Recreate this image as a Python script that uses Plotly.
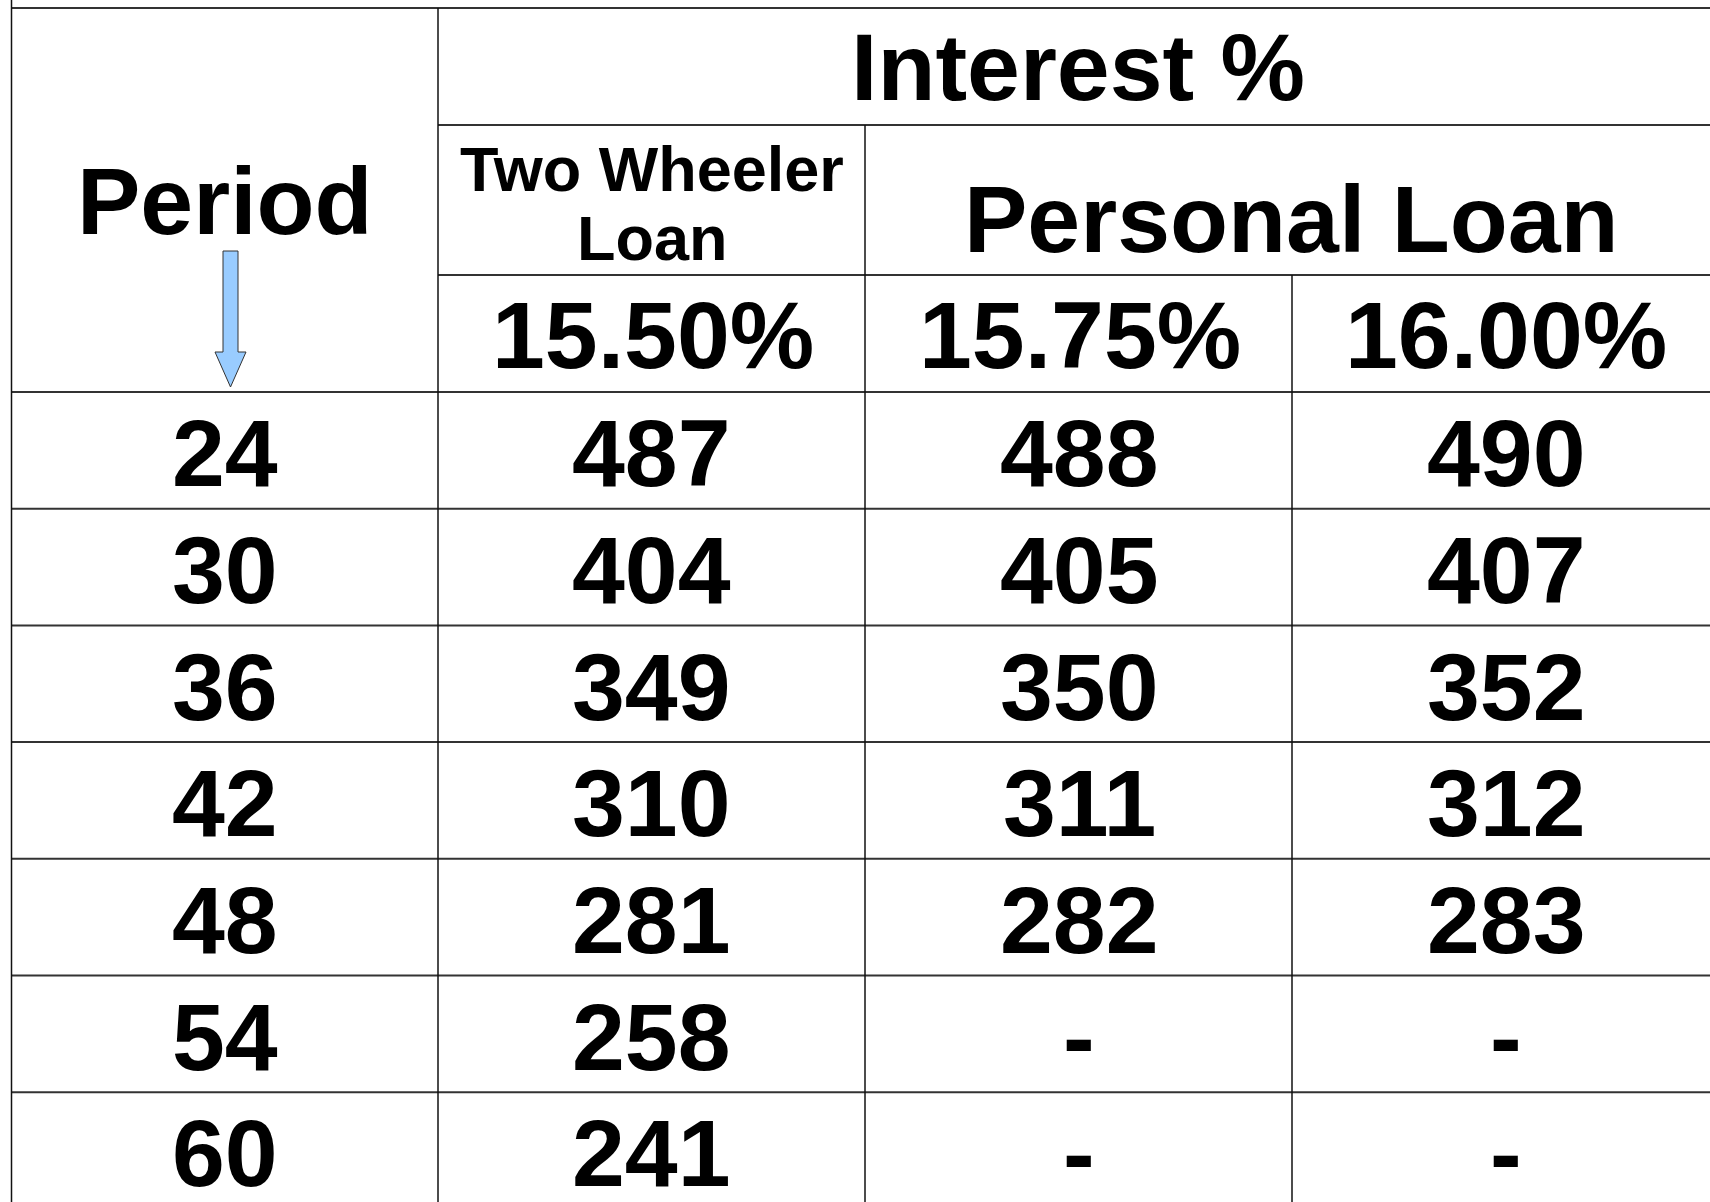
import plotly.graph_objects as go

# ---------------- data ----------------
periods = [24, 30, 36, 42, 48, 54, 60]
two_wheeler_1550 = ["487", "404", "349", "310", "281", "258", "241"]
personal_1575 = ["488", "405", "350", "311", "282", "-", "-"]
personal_1600 = ["490", "407", "352", "312", "283", "-", "-"]
rate_labels = ["15.50%", "15.75%", "16.00%"]
title_interest = "Interest %"
title_period = "Period"
title_two_wheeler = ["Two Wheeler", "Loan"]
title_personal = "Personal Loan"

# ---------------- layout constants ----------------
W, H = 1710, 1202
FONT = "Liberation Sans, Arial, sans-serif"
BIG = 95
SMALL = 63
col_x = [11.5, 438, 865, 1292, 1719]
y_top = 8
y_h1 = 125
y_h2 = 275
y_h3 = 392
row_h = 116.7

fig = go.Figure()

shapes = []
def hline(y, x0, x1):
    shapes.append(dict(type="line", x0=x0, x1=x1, y0=y, y1=y, xref="x", yref="y",
                       line=dict(color="#333333", width=2)))
def vline(x, y0, y1):
    shapes.append(dict(type="line", x0=x, x1=x, y0=y0, y1=y1, xref="x", yref="y",
                       line=dict(color="#111111", width=1.5)))

hline(y_top, col_x[0], W)
hline(y_h1, col_x[1], W)
hline(y_h2, col_x[1], W)
hline(y_h3, col_x[0], W)
for k in range(1, len(periods)):
    hline(y_h3 + k * row_h, col_x[0], W)

vline(col_x[0], 0, H)
vline(col_x[1], y_top, H)
vline(col_x[2], y_h1, H)
vline(col_x[3], y_h2, H)

# arrow under "Period"
shapes.append(dict(
    type="path",
    path="M 223,251 L 238,251 L 238,352 L 246,352 L 230.5,387 L 215,352 L 223,352 Z",
    xref="x", yref="y", fillcolor="#99ccff", line=dict(color="#333333", width=1)))

annotations = []
def text(t, x, baseline, size):
    annotations.append(dict(x=x, y=baseline - 0.35 * size, text=t, xref="x", yref="y",
                            showarrow=False, xanchor="center", yanchor="middle",
                            font=dict(family=FONT, size=size, color="#000000", weight="bold")))

text(title_interest, 1078, 100, BIG)
text(title_period, 225, 234, BIG)
text(title_two_wheeler[0], 652, 191, SMALL)
text(title_two_wheeler[1], 652, 260, SMALL)
text(title_personal, 1291, 252, BIG)
rate_x = [653, 1080, 1506]
for lbl, x in zip(rate_labels, rate_x):
    text(lbl, x, 368, BIG)

cols = [two_wheeler_1550, personal_1575, personal_1600]
data_x = [651, 1079, 1506]
for i, p in enumerate(periods):
    base = y_h3 + i * row_h + row_h / 2 + 36
    text(str(p), 225, base, BIG)
    for col, x in zip(cols, data_x):
        text(col[i], x, base, BIG)

fig.update_layout(
    width=W, height=H,
    margin=dict(l=0, r=0, t=0, b=0),
    paper_bgcolor="white", plot_bgcolor="white",
    xaxis=dict(range=[0, W], visible=False, fixedrange=True),
    yaxis=dict(range=[H, 0], visible=False, fixedrange=True),
    shapes=shapes, annotations=annotations, showlegend=False,
)

fig.write_html("out.html", config={"displayModeBar": False},
               post_script="document.body.style.margin='0';document.body.style.overflow='hidden';")
